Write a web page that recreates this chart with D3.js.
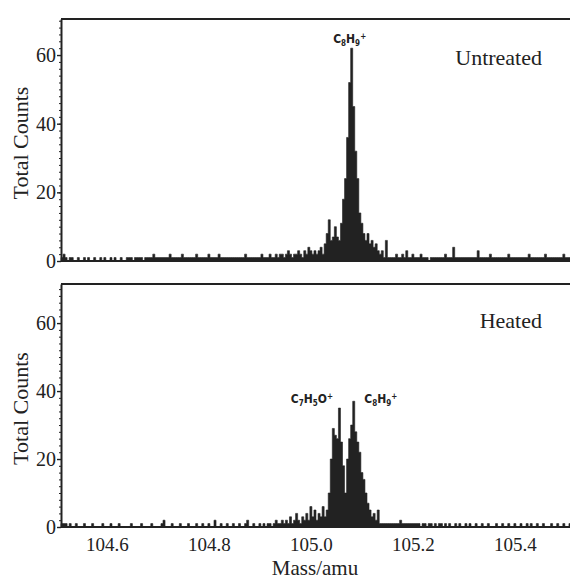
<!DOCTYPE html>
<html>
<head>
<meta charset="utf-8">
<script src="https://cdn.jsdelivr.net/npm/d3@7"></script>
<style>
  body { margin: 0; background: #fff; }
  svg { display: block; }
  text { fill: #222; }
</style>
</head>
<body>
<div id="chart"></div>
<script>
// channel grid of the spectra (amu)
const massStart = 104.512;
const massStep = 0.004;

const massTicks = [104.6, 104.8, 105.0, 105.2, 105.4];
const countTicks = [0, 20, 40, 60];

// counts per channel, 25 channels = 0.1 amu per row
const untreatedCounts = [
    1, 2, 1, 0, 1, 1, 0, 0, 1, 0, 0, 1, 0, 1, 0, 0, 1, 0, 0, 1, 0, 1, 0, 0, 1,
    0, 1, 0, 0, 1, 0, 0, 1, 1, 1, 0, 1, 1, 1, 1, 0, 1, 1, 1, 1, 2, 1, 1, 1, 1,
    1, 1, 1, 2, 1, 1, 1, 1, 1, 2, 1, 1, 1, 1, 1, 1, 2, 1, 1, 1, 1, 1, 2, 1, 1,
    1, 1, 2, 1, 1, 1, 1, 1, 1, 1, 1, 1, 1, 1, 1, 2, 1, 1, 1, 1, 1, 1, 1, 2, 1,
    1, 1, 2, 1, 1, 2, 1, 2, 2, 1, 2, 3, 2, 1, 2, 2, 3, 2, 1, 3, 2, 4, 3, 2, 3,
    2, 3, 4, 2, 5, 8, 12, 6, 7, 10, 7, 6, 11, 18, 24, 36, 52, 62, 45, 32, 24, 14, 11, 8, 6,
    8, 5, 6, 4, 5, 3, 2, 3, 1, 6, 1, 1, 1, 1, 2, 1, 1, 2, 1, 3, 1, 1, 2, 1, 1,
    1, 2, 1, 1, 1, 0, 1, 1, 1, 1, 1, 1, 1, 2, 1, 1, 1, 4, 1, 1, 1, 1, 1, 1, 1,
    1, 1, 1, 1, 3, 1, 1, 1, 1, 1, 2, 1, 1, 1, 1, 1, 1, 1, 1, 2, 1, 1, 1, 1, 1,
    1, 1, 1, 1, 2, 1, 1, 1, 1, 1, 1, 1, 2, 1, 1, 1, 1, 1, 1, 1, 1, 2, 1, 1, 1
];

const heatedCounts = [
    1, 1, 1, 0, 1, 0, 0, 1, 0, 0, 0, 1, 0, 0, 0, 1, 0, 0, 0, 0, 1, 0, 0, 0, 1,
    0, 0, 0, 1, 0, 0, 0, 0, 0, 1, 0, 0, 0, 0, 1, 0, 0, 0, 0, 1, 0, 0, 0, 0, 1,
    2, 0, 0, 0, 1, 0, 0, 0, 1, 0, 0, 0, 1, 0, 0, 0, 1, 0, 0, 1, 0, 0, 1, 0, 0,
    2, 0, 0, 1, 0, 0, 1, 0, 0, 1, 0, 0, 1, 0, 0, 1, 2, 0, 0, 1, 0, 0, 1, 0, 1,
    0, 1, 1, 0, 1, 2, 1, 1, 2, 1, 2, 1, 3, 1, 2, 4, 2, 1, 3, 2, 4, 2, 6, 3, 5,
    2, 4, 3, 6, 3, 5, 10, 20, 29, 27, 26, 35, 25, 18, 10, 20, 26, 30, 37, 28, 25, 22, 16, 14, 10,
    7, 5, 3, 4, 2, 5, 1, 1, 1, 1, 1, 1, 1, 1, 1, 1, 2, 1, 1, 1, 1, 1, 1, 1, 1,
    1, 0, 1, 1, 0, 1, 1, 0, 1, 0, 1, 1, 0, 1, 0, 1, 0, 0, 1, 0, 1, 0, 0, 1, 0,
    1, 0, 0, 1, 0, 0, 1, 0, 0, 1, 0, 0, 0, 1, 0, 0, 1, 0, 0, 1, 0, 0, 1, 0, 0,
    1, 0, 0, 1, 0, 1, 0, 0, 1, 0, 0, 1, 0, 0, 0, 1, 0, 0, 1, 0, 0, 1, 0, 0, 1
];

// peak annotations: formula pieces plus where they sit (amu, counts)
const untreatedPeaks = [
    { parts: [['C', ''], ['8', 'sub'], ['H', ''], ['9', 'sub'], ['+', 'sup']], mass: 105.076, count: 63.5 }
];
const heatedPeaks = [
    { parts: [['C', ''], ['7', 'sub'], ['H', ''], ['5', 'sub'], ['O', ''], ['+', 'sup']], mass: 105.002, count: 36.5 },
    { parts: [['C', ''], ['8', 'sub'], ['H', ''], ['9', 'sub'], ['+', 'sup']], mass: 105.137, count: 36.5 }
];

const width = 570;
const height = 580;
const ink = '#222';

const svg = d3.select('#chart')
    .append('svg')
    .attr('width', width)
    .attr('height', height);

const x = d3.scaleLinear()
    .domain([104.51, 105.512])
    .range([61, 572]);

const panels = [
    { title: 'Untreated', counts: untreatedCounts, peaks: untreatedPeaks, top: 19, zero: 261, max: 70.5, titleY: 65 },
    { title: 'Heated', counts: heatedCounts, peaks: heatedPeaks, top: 284, zero: 527, max: 71.5, titleY: 328 }
];

panels.forEach((p, k) => {
    const y = d3.scaleLinear()
        .domain([0, p.max])
        .range([p.zero, p.top]);

    const g = svg.append('g');

    // spectrum as a stepped, filled histogram (channel edges)
    const edges = p.counts.map((c, i) => ({ m: massStart + i * massStep - massStep / 2, c }));
    edges.push({ m: massStart + p.counts.length * massStep - massStep / 2, c: p.counts[p.counts.length - 1] });

    const area = d3.area()
        .curve(d3.curveStepAfter)
        .x(d => x(d.m))
        .y0(y(0))
        .y1(d => y(d.c));

    g.append('path')
        .datum(edges)
        .attr('d', area)
        .attr('fill', ink)
        .attr('stroke', ink)
        .attr('stroke-width', 0.6);

    // baseline
    g.append('line')
        .attr('x1', x.range()[0]).attr('x2', x.range()[1])
        .attr('y1', y(0)).attr('y2', y(0))
        .attr('stroke', ink).attr('stroke-width', 2);

    // top frame
    g.append('line')
        .attr('x1', x.range()[0]).attr('x2', x.range()[1])
        .attr('y1', p.top).attr('y2', p.top)
        .attr('stroke', ink).attr('stroke-width', 2);

    // minor ticks on the count axis
    g.append('g')
        .attr('transform', `translate(${x.range()[0]},0)`)
        .call(d3.axisLeft(y).tickValues(d3.range(0, p.max, 2)).tickSize(2).tickFormat(''))
        .call(a => a.select('.domain').remove())
        .selectAll('line').attr('stroke', ink);

    // count axis
    g.append('g')
        .attr('transform', `translate(${x.range()[0]},0)`)
        .call(d3.axisLeft(y).tickValues(countTicks).tickSize(4).tickPadding(1).tickSizeOuter(0))
        .call(a => a.select('.domain').attr('stroke', ink).attr('stroke-width', 2))
        .call(a => a.selectAll('.tick line').attr('stroke', ink).attr('stroke-width', 1.4))
        .call(a => a.selectAll('.tick text')
            .attr('font-family', 'Liberation Serif, serif')
            .attr('font-size', 20)
            .attr('fill', ink));

    g.append('text')
        .attr('transform', `translate(28,${(p.top + p.zero) / 2 + 3}) rotate(-90)`)
        .attr('text-anchor', 'middle')
        .attr('font-family', 'Liberation Serif, serif')
        .attr('font-size', 22)
        .text('Total Counts');

    g.append('text')
        .attr('x', 542)
        .attr('y', p.titleY)
        .attr('text-anchor', 'end')
        .attr('font-family', 'Liberation Serif, serif')
        .attr('font-size', 22)
        .text(p.title);

    // peak labels with sub/superscripts
    p.peaks.forEach(pk => {
        const t = g.append('text')
            .attr('x', x(pk.mass))
            .attr('y', y(pk.count))
            .attr('text-anchor', 'middle')
            .attr('font-family', 'Liberation Sans Narrow, DejaVu Sans Condensed, sans-serif')
            .attr('font-weight', 'bold')
            .attr('font-size', 12);
        let shift = 0;
        pk.parts.forEach(([s, kind]) => {
            const target = kind === 'sub' ? 3 : kind === 'sup' ? -4 : 0;
            t.append('tspan')
                .attr('dy', target - shift)
                .attr('font-size', kind ? 8 : 12)
                .text(s);
            shift = target;
        });
    });

    if (k === 1) {
        g.append('g')
            .attr('transform', `translate(0,${p.zero})`)
            .call(d3.axisBottom(x).tickValues(massTicks).tickSize(0).tickPadding(11).tickFormat(d3.format('.1f')))
            .call(a => a.select('.domain').remove())
            .call(a => a.selectAll('.tick text')
                .attr('font-family', 'Liberation Serif, serif')
                .attr('font-size', 19)
                .attr('fill', ink));
    }
});

svg.append('text')
    .attr('x', 315)
    .attr('y', 575)
    .attr('text-anchor', 'middle')
    .attr('font-family', 'Liberation Serif, serif')
    .attr('font-size', 21)
    .text('Mass/amu');
</script>
</body>
</html>
